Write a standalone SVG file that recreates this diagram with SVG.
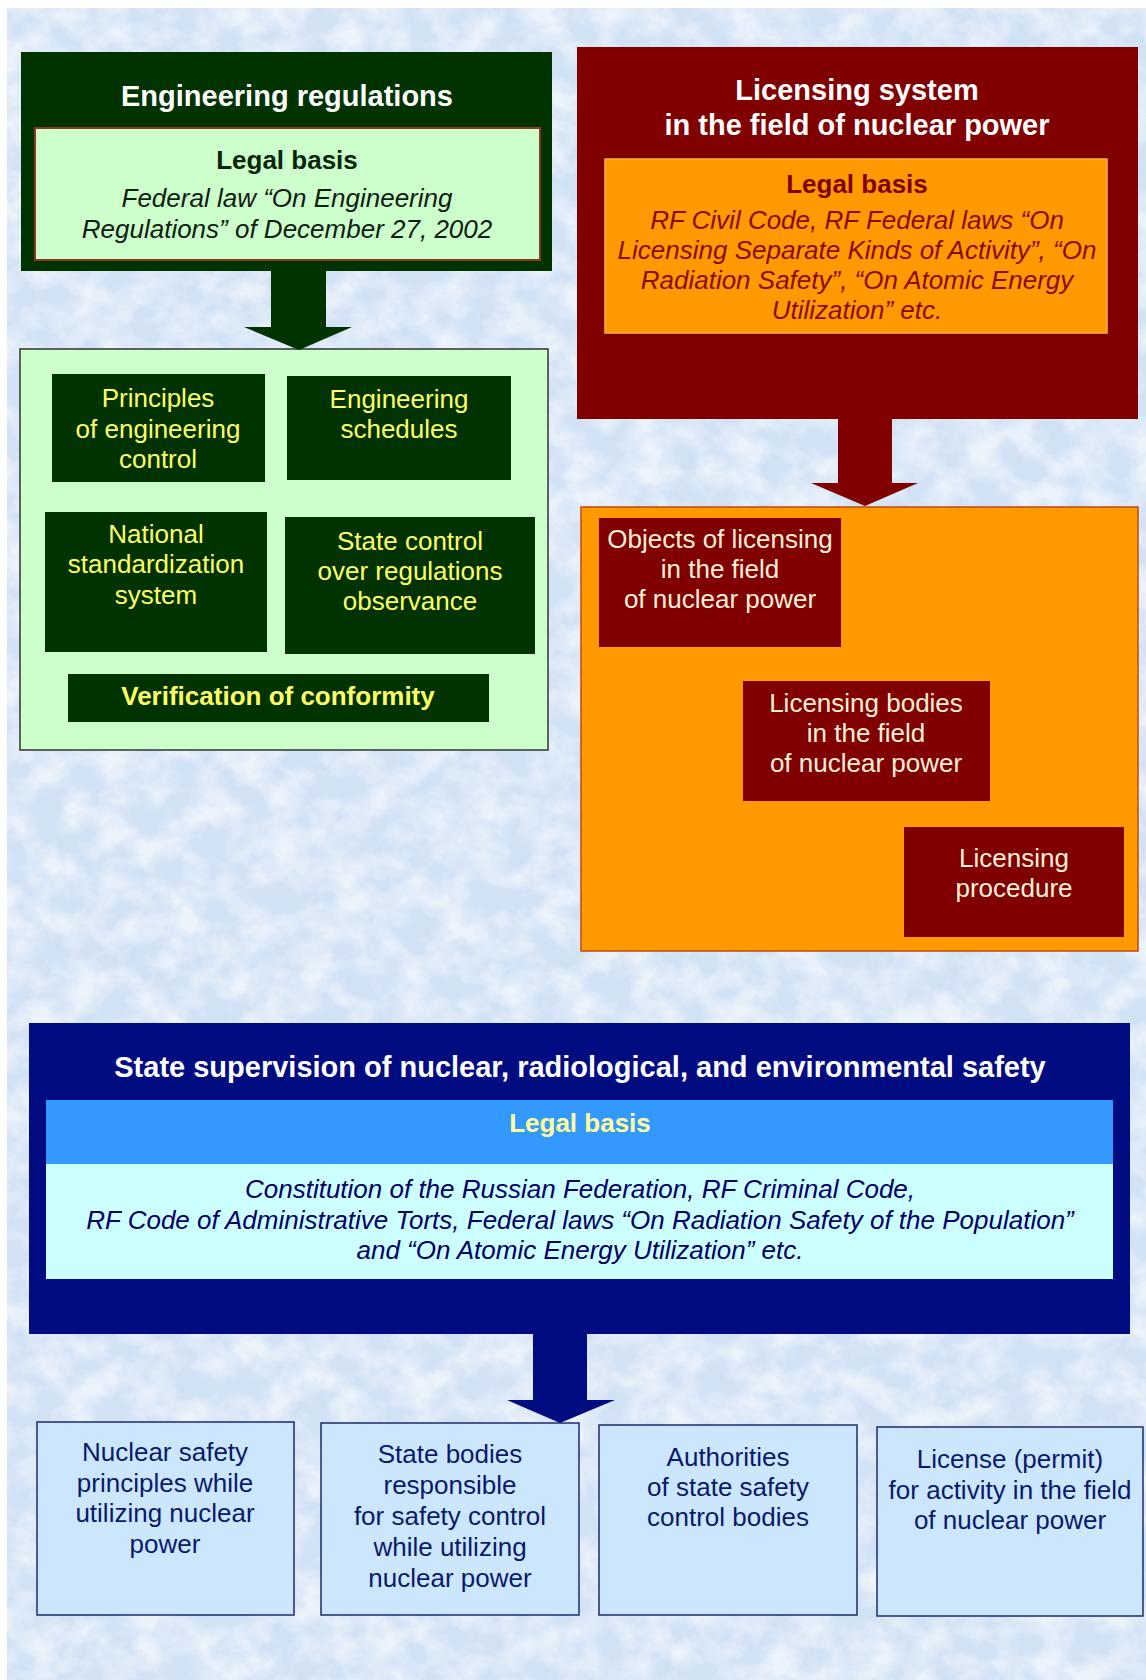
<svg xmlns="http://www.w3.org/2000/svg" width="1146" height="1680" viewBox="0 0 1146 1680">
<defs>
<filter id="marble" x="0" y="0" width="100%" height="100%">
<feTurbulence type="fractalNoise" baseFrequency="0.03 0.035" numOctaves="4" seed="7"/>
<feColorMatrix type="matrix" values="0 0 0 0 1  0 0 0 0 1  0 0 0 0 1  2.4 0 0 0 -0.85"/>
</filter>
<style>
text{font-family:"Liberation Sans",Arial,sans-serif;text-anchor:middle}
.title{font-size:29px;font-weight:bold;fill:#ffffff}
.lb{font-size:26px;font-weight:bold}
.it{font-size:26px;font-style:italic}
.yel{font-size:26px;fill:#ffff66}
.cream{font-size:26px;fill:#fff0d8}
.navy{font-size:26px;fill:#0a1a6a}
.dg{fill:#003300}
.dr{fill:#800000}
.bbox{fill:#cce7fd;stroke:#1e2a6e;stroke-width:1.5}
</style>
</defs>
<rect x="0" y="0" width="1146" height="1680" fill="#ffffff"/>
<rect x="7" y="8" width="1139" height="1672" fill="#d2e2f5"/>
<rect x="7" y="8" width="1139" height="1672" filter="url(#marble)" opacity="0.6"/>

<g id="engineering-regulations">
<rect x="21" y="52" width="531" height="219" class="dg"/>
<text x="287" y="106" class="title">Engineering regulations</text>
<rect x="35" y="128" width="505" height="132" fill="#ccffcc" stroke="#8a3a1a" stroke-width="2"/>
<text x="287" y="169" class="lb" fill="#0a260a">Legal basis</text>
<text x="287" y="207" class="it" fill="#102010">Federal law “On Engineering</text>
<text x="287" y="238" class="it" fill="#102010">Regulations” of December 27, 2002</text>
</g>

<g id="engineering-components">
<rect x="20" y="349" width="528" height="401" fill="#ccffcc" stroke="#333333" stroke-width="1.5"/>
</g>
<g id="principles">
<rect x="52" y="374" width="213" height="108" class="dg"/>
<text x="158" y="407" class="yel">Principles</text>
<text x="158" y="438" class="yel">of engineering</text>
<text x="158" y="468" class="yel">control</text>
</g>
<g id="schedules">
<rect x="287" y="376" width="224" height="104" class="dg"/>
<text x="399" y="408" class="yel">Engineering</text>
<text x="399" y="438" class="yel">schedules</text>
</g>
<g id="standardization">
<rect x="45" y="512" width="222" height="140" class="dg"/>
<text x="156" y="543" class="yel">National</text>
<text x="156" y="573" class="yel">standardization</text>
<text x="156" y="604" class="yel">system</text>
</g>
<g id="state-control">
<rect x="285" y="517" width="250" height="137" class="dg"/>
<text x="410" y="550" class="yel">State control</text>
<text x="410" y="580" class="yel">over regulations</text>
<text x="410" y="610" class="yel">observance</text>
</g>
<g id="verification">
<rect x="68" y="674" width="421" height="48" class="dg"/>
<text x="278" y="705" class="yel" font-weight="bold">Verification of conformity</text>
</g>

<g id="licensing-system">
<rect x="577" y="47" width="561" height="372" class="dr"/>
<text x="857" y="100" class="title">Licensing system</text>
<text x="857" y="135" class="title">in the field of nuclear power</text>
<rect x="605" y="159" width="502" height="174" fill="#ff9900" stroke="#ffb24a" stroke-width="1.5"/>
<text x="857" y="193" class="lb" fill="#800000">Legal basis</text>
<text x="857" y="229" class="it" fill="#8b0a0a">RF Civil Code, RF Federal laws “On</text>
<text x="857" y="259" class="it" fill="#8b0a0a">Licensing Separate Kinds of Activity”, “On</text>
<text x="857" y="289" class="it" fill="#8b0a0a">Radiation Safety”, “On Atomic Energy</text>
<text x="857" y="319" class="it" fill="#8b0a0a">Utilization” etc.</text>
</g>

<g id="licensing-components">
<rect x="581" y="507" width="557" height="444" fill="#ff9900" stroke="#c04a10" stroke-width="1.5"/>
</g>
<g id="licensing-objects">
<rect x="599" y="518" width="242" height="129" class="dr"/>
<text x="720" y="548" class="cream">Objects of licensing</text>
<text x="720" y="578" class="cream">in the field</text>
<text x="720" y="608" class="cream">of nuclear power</text>
</g>
<g id="licensing-bodies">
<rect x="743" y="681" width="247" height="120" class="dr"/>
<text x="866" y="712" class="cream">Licensing bodies</text>
<text x="866" y="742" class="cream">in the field</text>
<text x="866" y="772" class="cream">of nuclear power</text>
</g>
<g id="licensing-procedure">
<rect x="904" y="827" width="220" height="110" class="dr"/>
<text x="1014" y="867" class="cream">Licensing</text>
<text x="1014" y="897" class="cream">procedure</text>
</g>

<g id="state-supervision">
<rect x="29" y="1023" width="1101" height="311" fill="#000c80"/>
<text x="580" y="1077" class="title">State supervision of nuclear, radiological, and environmental safety</text>
<rect x="46" y="1100" width="1067" height="64" fill="#3399ff"/>
<text x="580" y="1132" class="lb" font-size="29px" fill="#ffff99">Legal basis</text>
<rect x="46" y="1164" width="1067" height="115" fill="#ccffff"/>
<text x="580" y="1198" class="it" fill="#000066">Constitution of the Russian Federation, RF Criminal Code,</text>
<text x="580" y="1229" class="it" fill="#000066">RF Code of Administrative Torts, Federal laws “On Radiation Safety of the Population”</text>
<text x="580" y="1259" class="it" fill="#000066">and “On Atomic Energy Utilization” etc.</text>
</g>

<g id="safety-principles">
<rect x="37" y="1422" width="257" height="193" class="bbox"/>
<text x="165" y="1461" class="navy">Nuclear safety</text>
<text x="165" y="1492" class="navy">principles while</text>
<text x="165" y="1522" class="navy">utilizing nuclear</text>
<text x="165" y="1553" class="navy">power</text>
</g>
<g id="state-bodies">
<rect x="321" y="1423" width="258" height="192" class="bbox"/>
<text x="450" y="1463" class="navy">State bodies</text>
<text x="450" y="1494" class="navy">responsible</text>
<text x="450" y="1525" class="navy">for safety control</text>
<text x="450" y="1556" class="navy">while utilizing</text>
<text x="450" y="1587" class="navy">nuclear power</text>
</g>
<g id="authorities">
<rect x="599" y="1425" width="258" height="190" class="bbox"/>
<text x="728" y="1466" class="navy">Authorities</text>
<text x="728" y="1496" class="navy">of state safety</text>
<text x="728" y="1526" class="navy">control bodies</text>
</g>
<g id="license">
<rect x="877" y="1427" width="266" height="189" class="bbox"/>
<text x="1010" y="1468" class="navy">License (permit)</text>
<text x="1010" y="1499" class="navy">for activity in the field</text>
<text x="1010" y="1529" class="navy">of nuclear power</text>
</g>

<g id="connectors">
<polygon points="271,270 326,270 326,327 352,327 299,350 244,327 271,327" fill="#003300"/>
<polygon points="838,418 892,418 892,483 918,483 865,506 811,483 838,483" fill="#800000"/>
<polygon points="533,1333 587,1333 587,1400 615,1400 560,1423 507,1400 533,1400" fill="#000c80"/>
</g>
</svg>
